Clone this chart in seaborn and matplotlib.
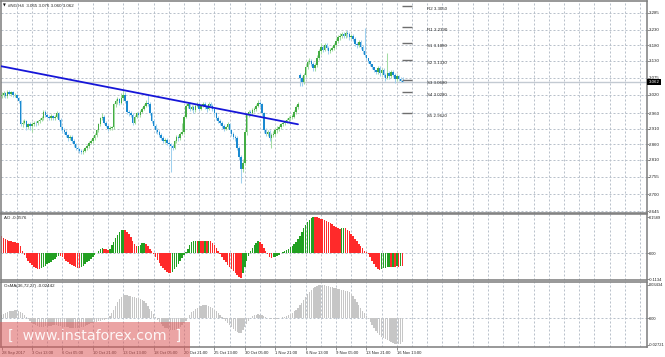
import numpy as np
import pandas as pd
import matplotlib
matplotlib.use("Agg")
import matplotlib.pyplot as plt
import matplotlib.transforms as mtransforms
from matplotlib.patches import Rectangle
import seaborn as sns

# ---------------- data ----------------
closes = [
    3.020, 3.025, 3.015, 3.030, 3.022, 3.028, 3.018, 3.020, 3.010, 3.000, 2.925, 2.930, 2.935, 2.915, 2.925, 2.920,
    2.925, 2.930, 2.928, 2.935, 2.940, 2.945, 2.965, 2.955, 2.950, 2.945, 2.952, 2.945, 2.950, 2.960, 2.940, 2.915,
    2.905, 2.900, 2.890, 2.880, 2.885, 2.870, 2.860, 2.850, 2.845, 2.840, 2.835, 2.840, 2.848, 2.855, 2.865, 2.870,
    2.880, 2.890, 2.905, 2.925, 2.945, 2.950, 2.930, 2.920, 2.910, 2.912, 2.915, 2.990, 3.000, 3.005, 2.995, 3.010,
    3.020, 3.000, 2.965, 2.960, 2.955, 2.930, 2.950, 2.960, 2.955, 2.965, 2.975, 2.985, 2.995, 2.990, 2.960, 2.935,
    2.920, 2.905, 2.900, 2.890, 2.880, 2.870, 2.875, 2.865, 2.860, 2.855, 2.850, 2.870, 2.885, 2.880, 2.895, 2.900,
    2.950, 2.985, 2.990, 2.975, 2.980, 2.970, 2.985, 2.990, 2.975, 2.985, 2.990, 2.980, 2.975, 2.990, 2.985, 2.975,
    2.960, 2.945, 2.935, 2.930, 2.920, 2.910, 2.915, 2.925, 2.905, 2.895, 2.885, 2.880, 2.850, 2.820, 2.780, 2.800,
    2.900, 2.955, 2.965, 2.960, 2.970, 2.975, 2.985, 2.995, 2.990, 2.960, 2.905, 2.895, 2.900, 2.880, 2.890, 2.895,
    2.905, 2.910, 2.915, 2.925, 2.930, 2.935, 2.940, 2.945, 2.950, 2.950, 2.965, 2.980, 2.990, 3.075, 3.060, 3.085,
    3.110, 3.125, 3.130, 3.120, 3.105, 3.115, 3.140, 3.160, 3.175, 3.165, 3.180, 3.170, 3.160, 3.165, 3.170, 3.180,
    3.195, 3.205, 3.210, 3.215, 3.210, 3.220, 3.215, 3.205, 3.210, 3.200, 3.185, 3.180, 3.190, 3.175, 3.160, 3.150,
    3.140, 3.130, 3.120, 3.110, 3.100, 3.095, 3.105, 3.090, 3.100, 3.085, 3.075, 3.090, 3.080, 3.095, 3.085, 3.070,
    3.080, 3.070, 3.065, 3.062,
]
highs = [
    3.028, 3.032, 3.030, 3.036, 3.035, 3.033, 3.032, 3.026, 3.024, 3.014, 3.004, 2.938, 2.942, 2.940, 2.930, 2.932,
    2.932, 2.936, 2.935, 2.940, 2.946, 2.952, 2.972, 2.970, 2.960, 2.956, 2.958, 2.956, 2.956, 2.968, 2.964, 2.944,
    2.920, 2.912, 2.906, 2.895, 2.892, 2.890, 2.876, 2.866, 2.856, 2.850, 2.846, 2.846, 2.852, 2.860, 2.870, 2.878,
    2.886, 2.896, 2.910, 2.930, 2.950, 2.962, 2.956, 2.936, 2.926, 2.918, 2.920, 2.995, 3.008, 3.014, 3.010, 3.025,
    3.036, 3.028, 3.004, 2.972, 2.968, 2.962, 2.955, 2.966, 2.966, 2.970, 2.980, 2.990, 3.002, 3.020, 2.996, 2.966,
    2.942, 2.926, 2.912, 2.905, 2.896, 2.886, 2.880, 2.880, 2.870, 2.866, 2.860, 2.875, 2.890, 2.892, 2.900, 2.930,
    2.956, 2.992, 2.998, 2.996, 2.986, 2.986, 2.992, 2.998, 2.996, 2.992, 2.998, 2.996, 2.986, 2.998, 2.996, 2.990,
    2.982, 2.966, 2.952, 2.942, 2.936, 2.926, 2.920, 2.934, 2.930, 2.910, 2.900, 2.890, 2.886, 2.856, 2.826, 2.812,
    2.910, 2.962, 2.972, 2.972, 2.976, 2.982, 2.992, 3.003, 3.000, 2.994, 2.966, 2.912, 2.906, 2.906, 2.896, 2.902,
    2.912, 2.918, 2.922, 2.930, 2.936, 2.940, 2.946, 2.952, 2.956, 2.958, 2.970, 2.986, 2.996, 3.092, 3.082, 3.092,
    3.118, 3.132, 3.138, 3.136, 3.126, 3.122, 3.148, 3.168, 3.186, 3.182, 3.188, 3.186, 3.176, 3.172, 3.178, 3.186,
    3.202, 3.212, 3.218, 3.222, 3.222, 3.226, 3.228, 3.222, 3.216, 3.216, 3.206, 3.192, 3.196, 3.196, 3.180, 3.235,
    3.146, 3.136, 3.126, 3.116, 3.106, 3.100, 3.112, 3.112, 3.106, 3.106, 3.092, 3.155, 3.096, 3.100, 3.100, 3.090,
    3.086, 3.084, 3.076, 3.076,
]
lows = [
    3.010, 3.014, 3.010, 3.010, 3.018, 3.016, 3.012, 3.012, 3.005, 2.995, 2.918, 2.915, 2.925, 2.908, 2.910, 2.905,
    2.900, 2.918, 2.920, 2.922, 2.930, 2.935, 2.940, 2.950, 2.944, 2.938, 2.940, 2.940, 2.940, 2.945, 2.935, 2.908,
    2.898, 2.895, 2.885, 2.872, 2.874, 2.864, 2.852, 2.842, 2.838, 2.834, 2.828, 2.830, 2.836, 2.842, 2.850, 2.860,
    2.864, 2.874, 2.884, 2.900, 2.920, 2.940, 2.925, 2.915, 2.904, 2.905, 2.906, 2.910, 2.982, 2.992, 2.988, 2.990,
    3.004, 2.994, 2.958, 2.952, 2.948, 2.922, 2.925, 2.944, 2.948, 2.950, 2.960, 2.970, 2.980, 2.984, 2.955, 2.928,
    2.914, 2.898, 2.894, 2.884, 2.874, 2.864, 2.864, 2.858, 2.852, 2.770, 2.842, 2.845, 2.864, 2.872, 2.875, 2.890,
    2.895, 2.945, 2.978, 2.968, 2.970, 2.962, 2.965, 2.980, 2.968, 2.970, 2.980, 2.974, 2.966, 2.970, 2.978, 2.968,
    2.952, 2.938, 2.928, 2.922, 2.912, 2.902, 2.905, 2.910, 2.898, 2.888, 2.878, 2.870, 2.842, 2.810, 2.735, 2.770,
    2.795, 2.892, 2.948, 2.952, 2.954, 2.964, 2.968, 2.980, 2.982, 2.952, 2.898, 2.886, 2.888, 2.872, 2.850, 2.884,
    2.888, 2.898, 2.904, 2.910, 2.918, 2.924, 2.928, 2.934, 2.940, 2.942, 2.944, 2.958, 2.974, 3.050, 3.048, 3.055,
    3.078, 3.104, 3.118, 3.114, 3.098, 3.098, 3.110, 3.134, 3.152, 3.158, 3.160, 3.164, 3.152, 3.154, 3.160, 3.164,
    3.174, 3.188, 3.198, 3.204, 3.204, 3.204, 3.208, 3.198, 3.200, 3.194, 3.178, 3.172, 3.174, 3.168, 3.152, 3.142,
    3.132, 3.122, 3.112, 3.104, 3.094, 3.086, 3.088, 3.082, 3.084, 3.078, 3.066, 3.070, 3.072, 3.074, 3.078, 3.058,
    3.064, 3.064, 3.060, 3.060,
]
first_open = 3.015
gap_bar, gap_open = 157, 3.085          # Monday opening gap

ao_values = [
    0.075, 0.068, 0.062, 0.058, 0.055, 0.052, 0.050, 0.049, 0.047, 0.046, 0.030, 0.008, -0.008, -0.020, -0.032, -0.042,
    -0.052, -0.058, -0.064, -0.068, -0.070, -0.066, -0.060, -0.054, -0.048, -0.042, -0.036, -0.030, -0.024, -0.016, -0.010, -0.012,
    -0.018, -0.025, -0.032, -0.040, -0.046, -0.052, -0.057, -0.061, -0.064, -0.066, -0.062, -0.055, -0.047, -0.040, -0.032, -0.024,
    -0.016, -0.008, 0.002, 0.010, 0.018, 0.022, 0.020, 0.017, 0.015, 0.020, 0.035, 0.050, 0.065, 0.080, 0.092, 0.100,
    0.103, 0.101, 0.095, 0.085, 0.070, 0.055, 0.040, 0.030, 0.032, 0.038, 0.044, 0.046, 0.040, 0.030, 0.020, 0.008,
    -0.005, -0.018, -0.030, -0.042, -0.055, -0.065, -0.074, -0.080, -0.085, -0.087, -0.080, -0.070, -0.058, -0.045, -0.032, -0.020,
    -0.008, 0.005, 0.020, 0.035, 0.048, 0.054, 0.055, 0.054, 0.056, 0.055, 0.053, 0.056, 0.054, 0.055, 0.052, 0.045,
    0.035, 0.022, 0.010, -0.002, -0.015, -0.028, -0.040, -0.050, -0.060, -0.068, -0.076, -0.085, -0.094, -0.102, -0.108, -0.085,
    -0.060, -0.035, -0.012, 0.010, 0.025, 0.038, 0.046, 0.052, 0.050, 0.040, 0.025, 0.010, -0.005, -0.015, -0.020, -0.018,
    -0.014, -0.010, -0.006, 0.000, 0.005, 0.010, 0.015, 0.020, 0.026, 0.032, 0.040, 0.050, 0.062, 0.078, 0.095, 0.112,
    0.126, 0.138, 0.148, 0.155, 0.159, 0.158, 0.157, 0.155, 0.152, 0.150, 0.146, 0.142, 0.138, 0.133, 0.127, 0.120,
    0.115, 0.110, 0.108, 0.110, 0.111, 0.109, 0.104, 0.096, 0.086, 0.075, 0.064, 0.053, 0.042, 0.032, 0.022, 0.012,
    0.004, -0.005, -0.018, -0.032, -0.046, -0.060, -0.070, -0.073, -0.068, -0.064, -0.063, -0.062, -0.060, -0.061, -0.058, -0.060,
    -0.056, -0.058, -0.055, -0.0576,
]
osma_values = [
    0.003, 0.004, 0.005, 0.006, 0.007, 0.0075, 0.008, 0.0083, 0.0084, 0.008, 0.0065, 0.005, 0.003, 0.001, -0.001, -0.003,
    -0.005, -0.006, -0.007, -0.008, -0.0085, -0.0087, -0.0086, -0.0083, -0.008, -0.0077, -0.0075, -0.0073, -0.0072, -0.0073, -0.0075, -0.0078,
    -0.0082, -0.0086, -0.009, -0.0094, -0.0097, -0.0099, -0.010, -0.010, -0.0098, -0.0095, -0.009, -0.0085, -0.008, -0.0072, -0.0063, -0.0052,
    -0.0045, -0.0042, -0.0038, -0.0033, -0.0027, -0.002, -0.0013, -0.0006, 0.0002, 0.002, 0.005, 0.009, 0.013, 0.017, 0.020, 0.022,
    0.0235, 0.024, 0.0238, 0.0232, 0.0225, 0.022, 0.0215, 0.021, 0.0205, 0.020, 0.019, 0.018, 0.016, 0.013, 0.010, 0.007,
    0.004, 0.001, -0.002, -0.004, -0.006, -0.008, -0.0095, -0.0105, -0.0113, -0.0118, -0.012, -0.012, -0.0115, -0.0105, -0.009, -0.007,
    -0.005, -0.0025, 0.000, 0.003, 0.006, 0.008, 0.0095, 0.011, 0.012, 0.013, 0.0135, 0.0137, 0.0135, 0.013, 0.012, 0.0105,
    0.009, 0.007, 0.005, 0.003, 0.001, -0.001, -0.003, -0.005, -0.007, -0.009, -0.011, -0.013, -0.0145, -0.0155, -0.015, -0.012,
    -0.009, -0.006, -0.003, 0.000, 0.002, 0.003, 0.0038, 0.004, 0.0038, 0.003, 0.002, 0.001, 0.000, -0.0005, -0.001, -0.001,
    -0.0008, -0.0005, 0.000, 0.0005, 0.001, 0.0015, 0.002, 0.003, 0.004, 0.0055, 0.007, 0.009, 0.011, 0.0135, 0.016, 0.019,
    0.022, 0.025, 0.0275, 0.0295, 0.031, 0.032, 0.033, 0.0338, 0.0343, 0.0343, 0.034, 0.0335, 0.033, 0.0325, 0.032, 0.0315,
    0.031, 0.0305, 0.030, 0.0295, 0.029, 0.0285, 0.028, 0.027, 0.025, 0.023, 0.020, 0.017, 0.014, 0.011, 0.008, 0.005,
    0.002, -0.001, -0.004, -0.007, -0.010, -0.013, -0.015, -0.017, -0.019, -0.020, -0.021, -0.022, -0.023, -0.024, -0.025, -0.026,
    -0.0265, -0.027, -0.0262, -0.0244,
]

date_labels = ["28 Sep 2017", "3 Oct 13:00", "6 Oct 05:00", "10 Oct 21:00", "13 Oct 13:00",
               "18 Oct 05:00", "20 Oct 21:00", "25 Oct 13:00", "30 Oct 05:00", "1 Nov 21:00",
               "6 Nov 13:00", "9 Nov 05:00", "13 Nov 21:00", "16 Nov 13:00"]
price_ticks = [3.285, 3.230, 3.180, 3.130, 3.075, 3.020, 2.960, 2.910, 2.860, 2.810, 2.755, 2.700, 2.645]
pivot_names = ["R2", "R1", "S1", "S2", "S3", "S4", "S5"]
pivot_values = [3.3050, 3.2390, 3.1880, 3.1330, 3.0680, 3.0280, 2.9620]
trend_bars = [-0.8, 156.0]
trend_prices = [3.113, 2.925]
bid_price = 3.062
title_main = "#NG,H4  3.065 3.076 3.060 3.062"
title_ao = "AO -0.0576"
title_osma = "OsMA(36,72,27) -0.02442"
ao_ticks = [0.1589, 0.0, -0.1134]
ao_tick_labels = ["0.1589", "0.00", "-0.1134"]
osma_ticks = [0.03434, 0.0, -0.02721]
osma_tick_labels = ["0.03434", "0.00", "-0.02721"]
watermark = "[  www.instaforex.com  ]"

assert len(closes) == len(highs) == len(lows) == len(ao_values) == len(osma_values)

# ---------------- figure ----------------
sns.set_theme(style="white")
SMALL_FONT = ["Liberation Sans", "DejaVu Sans"]
plt.rcParams["font.family"] = SMALL_FONT
W, H = 665, 357
fig = plt.figure(figsize=(W / 100, H / 100), dpi=100)
fig.patch.set_facecolor("white")

X_LEFT, X_RIGHT = 1.0, 646.5
BAR0, STEP = 1.6, 1.9                      # pixel position of bar 0 and bar spacing
xlim = ((X_LEFT - BAR0) / STEP, (X_RIGHT - BAR0) / STEP)


def add(top, bottom):
    return fig.add_axes([X_LEFT / W, 1 - bottom / H, (X_RIGHT - X_LEFT) / W, (bottom - top) / H])


ax = add(1.0, 213.3)
ax_ao = add(214.3, 280.0)
ax_os = add(281.7, 347.3)

FS = 3.2
FSI = 2.9
FSX = 3.0
GRID = "#b9c1cb"
SPINE = "#7c7c7c"
TXT = "#222222"
n = len(closes)
idx = np.arange(n)

for a, fs in ((ax, FS), (ax_ao, FSI), (ax_os, FSI)):
    a.set_facecolor("white")
    a.set_xlim(*xlim)
    for s in a.spines.values():
        s.set_color(SPINE)
        s.set_linewidth(1.1)
    for k in range(8, int(xlim[1]) + 1, 8):
        a.axvline(k, color=GRID, lw=0.72, ls=(0, (2, 2)), zorder=0)
    a.yaxis.tick_right()
    a.tick_params(axis="y", which="both", right=True, left=False, labelright=True, labelleft=False,
                  direction="out", length=1.3, width=0.6, pad=0.6, labelsize=fs,
                  colors=SPINE, labelcolor=TXT)

# ---- main price panel ----
ax.set_ylim(2.6379, 3.3227)
ax.set_yticks(price_ticks)
ax.set_yticklabels([f"{v:.3f}" for v in price_ticks])
for v in price_ticks:
    ax.axhline(v, color=GRID, lw=0.72, ls=(0, (2, 2)), zorder=0)
ax.set_xticks([])

opens = [first_open] + closes[:-1]
opens[gap_bar] = gap_open
df = pd.DataFrame({"i": idx, "o": opens, "h": highs, "l": lows, "c": closes})
up = df["c"] >= df["o"]
for mask, body_col, wick_col in [(up, "#43ac43", "#a3dca3"), (~up, "#1a89d0", "#9fd0ee")]:
    d = df[mask]
    ax.vlines(d["i"], d["l"], d["h"], color=wick_col, lw=0.75, zorder=2)
    ax.bar(d["i"], (d["c"] - d["o"]).abs().clip(lower=0.0025), bottom=np.minimum(d["o"], d["c"]),
           width=0.8, color=body_col, lw=0, zorder=3, antialiased=False)

ax.axhline(bid_price, color="#c3cad2", lw=1.0, zorder=1)
sns.lineplot(x=trend_bars, y=trend_prices, ax=ax, color="#1616d8", lw=1.3, zorder=4)

seg0, seg1, lab_x = (402 - BAR0) / STEP, (412 - BAR0) / STEP, (427 - BAR0) / STEP
for name, val in zip(pivot_names, pivot_values):
    ax.hlines(val, seg0, seg1, color="#6e6e6e", lw=1.0, zorder=4)
    ax.annotate(f"{name} {val:.4f}", (lab_x, val), xytext=(0, -3), textcoords="offset pixels",
                fontsize=FS, va="center", ha="left", color=TXT)

# price box on the axis
trans = mtransforms.blended_transform_factory(ax.transAxes, ax.transData)
ax.add_patch(Rectangle((1.0, bid_price - 0.009), 0.022, 0.018, transform=trans,
                       facecolor="black", edgecolor="none", clip_on=False, zorder=10))
ax.text(1.003, bid_price, f"{bid_price:.3f}", transform=trans, fontsize=FS, color="white",
        va="center", ha="left", zorder=11, clip_on=False)

fig.text(3 / W, 1 - 5.5 / H, "\u25bc", fontsize=2.6, va="center", ha="left", color="#111111",
         family=["DejaVu Sans"])
fig.text(8 / W, 1 - 5.5 / H, title_main, fontsize=FS, va="center", ha="left", color=TXT)

# ---- AO panel ----
ax_ao.set_ylim(-0.117, 0.171)
ax_ao.axhline(0, color=GRID, lw=0.72, ls=(0, (2, 2)), zorder=0)
ao_arr = np.array(ao_values)
rising = np.r_[False, ao_arr[1:] > ao_arr[:-1]]
ax_ao.bar(idx[rising], ao_arr[rising], width=0.74, color="#22a022", lw=0, zorder=2)
ax_ao.bar(idx[~rising], ao_arr[~rising], width=0.74, color="#ff2a2a", lw=0, zorder=2)
ax_ao.set_yticks(ao_ticks)
ax_ao.set_yticklabels(ao_tick_labels)
ax_ao.set_xticks([])
fig.text(4 / W, 1 - 218 / H, title_ao, fontsize=FS, va="center", ha="left", color=TXT)

# ---- OsMA panel ----
ax_os.set_ylim(-0.0299, 0.0377)
ax_os.axhline(0, color=GRID, lw=0.72, ls=(0, (2, 2)), zorder=0)
ax_os.bar(idx, osma_values, width=0.72, color="#c6c6c6", lw=0, zorder=2)
ax_os.set_yticks(osma_ticks)
ax_os.set_yticklabels(osma_tick_labels)
ax_os.set_xticks(np.arange(len(date_labels)) * 16)
ax_os.set_xticklabels(date_labels, ha="left")
ax_os.tick_params(axis="x", bottom=True, direction="out", length=2, width=0.6, pad=1.0,
                  labelsize=FSX, colors=SPINE, labelcolor=TXT)
fig.text(4 / W, 1 - 285.5 / H, title_osma, fontsize=FS, va="center", ha="left", color=TXT)

# ---- watermark ----
fig.patches.append(Rectangle((0, 0), 190 / W, 35 / H, transform=fig.transFigure,
                             facecolor="#dc5a5a", alpha=0.55, edgecolor="none", zorder=20))
fig.text(95 / W, 1 - 336 / H, watermark, fontsize=10.3, color="white", alpha=0.9,
         ha="center", va="center", zorder=21, family=["DejaVu Sans"])

fig.savefig("out.png", dpi=100)
